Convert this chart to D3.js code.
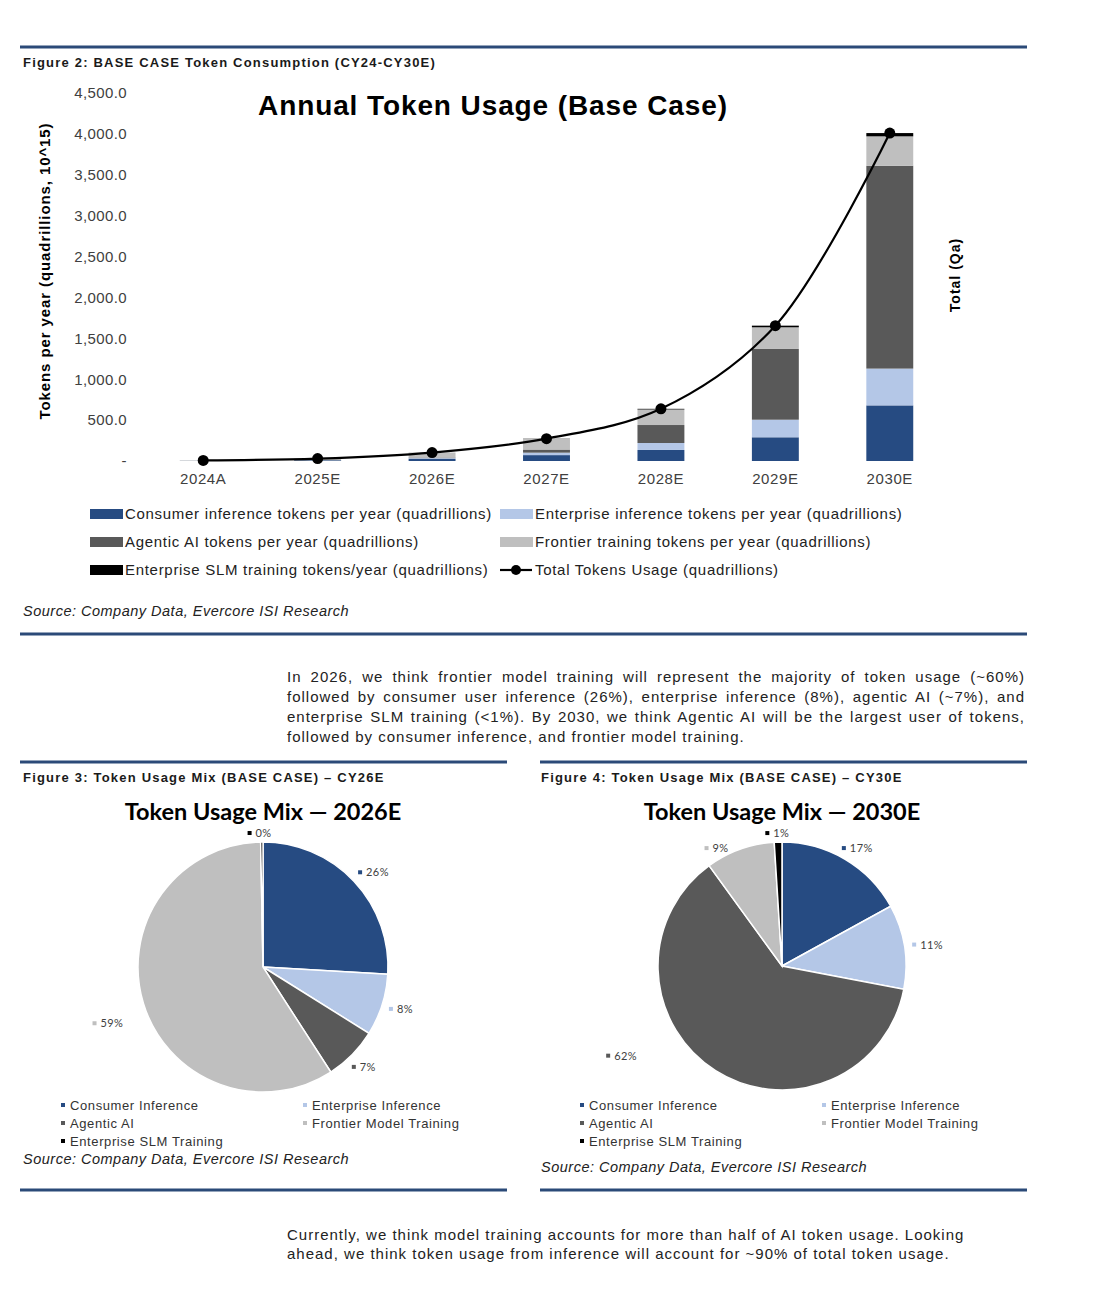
<!DOCTYPE html>
<html><head><meta charset="utf-8">
<script src="https://cdn.jsdelivr.net/npm/d3@7"></script>
<style>body{margin:0;background:#fff} svg{display:block}</style>
</head><body>
<svg id="c" width="1100" height="1316"></svg>
<script>
// ---------- DATA ----------
const years = ["2024A","2025E","2026E","2027E","2028E","2029E","2030E"];
const consumer   = [1.2, 8, 27, 72, 135, 290, 680];
const enterprise = [0.4, 2.5, 8, 30, 85, 215, 450];
const agentic    = [0.2, 1.5, 7, 38, 220, 865, 2480];
const frontier   = [5, 17, 61, 130, 190, 265, 360];
const slm        = [0.05, 0.1, 0.3, 3, 8, 20, 40];
const seriesNames = [
  "Consumer inference tokens per year (quadrillions)",
  "Enterprise inference tokens per year (quadrillions)",
  "Agentic AI tokens per year (quadrillions)",
  "Frontier training tokens per year (quadrillions)",
  "Enterprise SLM training tokens/year (quadrillions)"
];
const totalName = "Total Tokens Usage (quadrillions)";
const yTicks = [0, 500, 1000, 1500, 2000, 2500, 3000, 3500, 4000, 4500];

const pieCategories = ["Consumer Inference","Enterprise Inference","Agentic AI","Frontier Model Training","Enterprise SLM Training"];
const mix2026 = [26, 8, 7, 59, 0.3];
const mix2030 = [17, 11, 62, 9, 1];

const para1 = [
  "In 2026, we think frontier model training will represent the majority of token usage (~60%)",
  "followed by consumer user inference (26%), enterprise inference (8%), agentic AI (~7%), and",
  "enterprise SLM training (<1%). By 2030, we think Agentic AI will be the largest user of tokens,",
  "followed by consumer inference, and frontier model training."
];
const para2 = [
  "Currently, we think model training accounts for more than half of AI token usage.  Looking",
  "ahead, we think token usage from inference will account for ~90% of total token usage."
];

// ---------- STYLE ----------
const colors = ["#264b82", "#b4c7e7", "#595959", "#bfbfbf", "#000000"];
const AR = "'Liberation Sans', Arial, sans-serif";
const CAL = "Lato, 'Open Sans', sans-serif";
const RULE = "#2b4a78";
const TXT = "#1a1a1a";
// label nudges (px) for pie data labels that Excel moved with "best fit"
const labelNudge2026 = [[0,0],[-3,0],[-4,3],[-13,16],[0,4]];
const labelNudge2030 = [[-2,0],[-3,0],[-82,-26],[-13,11],[2,4]];

const svg = d3.select("#c");
svg.append("rect").attr("width", 1100).attr("height", 1316).attr("fill", "#fff");

function rule(x1, x2, y) {
  svg.append("line").attr("x1", x1).attr("x2", x2).attr("y1", y).attr("y2", y)
    .attr("stroke", RULE).attr("stroke-width", 3);
}
[[20,1027,47],[20,1027,634],[20,507,762],[540,1027,762],[20,507,1190],[540,1027,1190]].forEach(r => rule(...r));

function text(x, y, s, size, opts = {}) {
  return svg.append("text").attr("x", x).attr("y", y).text(s)
    .attr("font-family", opts.family || AR).attr("font-size", size)
    .attr("font-weight", opts.weight || "normal").attr("font-style", opts.style || "normal")
    .attr("letter-spacing", opts.ls || 0)
    .attr("fill", opts.fill || TXT).attr("text-anchor", opts.anchor || "start");
}

// headers & sources
const HDR = {weight: "bold", ls: 1.2};
text(23, 67, "Figure 2: BASE CASE Token Consumption (CY24-CY30E)", 13, HDR);
const SRC = {style: "italic", fill: "#222", ls: 0.5};
text(23, 616, "Source: Company Data, Evercore ISI Research", 14.5, SRC);
text(23, 782, "Figure 3: Token Usage Mix (BASE CASE) \u2013 CY26E", 13, HDR);
text(541, 782, "Figure 4: Token Usage Mix (BASE CASE) \u2013 CY30E", 13, HDR);
text(23, 1164, "Source: Company Data, Evercore ISI Research", 14.5, SRC);
text(541, 1172, "Source: Company Data, Evercore ISI Research", 14.5, SRC);

// ---------- BAR CHART ----------
const x = d3.scaleBand().domain(years).range([146, 947]).paddingInner(0.59).paddingOuter(0.295);
const y = d3.scaleLinear().domain([0, 4500]).range([461, 93]);

text(493, 115, "Annual Token Usage (Base Case)", 28, {weight: "bold", anchor: "middle", fill: "#000", ls: 0.9});

const yAxis = svg.append("g").attr("transform", "translate(127,0)")
  .call(d3.axisLeft(y).tickValues(yTicks).tickSize(0).tickPadding(0)
    .tickFormat(d => d === 0 ? "-" : d3.format(",.1f")(d)));
yAxis.select(".domain").remove();
yAxis.selectAll("text").attr("font-family", AR).attr("font-size", 15).attr("letter-spacing", 0.4).attr("fill", "#404040");

const xAxis = svg.append("g").attr("transform", "translate(0,461)")
  .call(d3.axisBottom(x).tickSize(0).tickPadding(12));
xAxis.select(".domain").remove();
xAxis.selectAll("text").attr("font-family", AR).attr("font-size", 15).attr("letter-spacing", 0.6).attr("fill", "#404040");

const table = years.map((yr, i) => ({year: yr, s0: consumer[i], s1: enterprise[i], s2: agentic[i], s3: frontier[i], s4: slm[i]}));
const keys = ["s0","s1","s2","s3","s4"];
const stacked = d3.stack().keys(keys)(table);
svg.append("g").selectAll("g").data(stacked).join("g")
  .attr("fill", (d, i) => colors[i])
  .selectAll("rect").data(d => d).join("rect")
  .attr("x", d => x(d.data.year)).attr("width", x.bandwidth())
  .attr("y", d => y(d[1])).attr("height", d => Math.max(0, y(d[0]) - y(d[1])));

const totals = table.map(d => ({year: d.year, v: keys.reduce((a, k) => a + d[k], 0)}));
const line = d3.line().x(d => x(d.year) + x.bandwidth() / 2).y(d => y(d.v)).curve(d3.curveCatmullRom.alpha(0.5));
svg.append("path").datum(totals).attr("d", line).attr("fill", "none").attr("stroke", "#000").attr("stroke-width", 2.2);
svg.append("g").selectAll("circle").data(totals).join("circle")
  .attr("cx", d => x(d.year) + x.bandwidth() / 2).attr("cy", d => y(d.v)).attr("r", 5.5).attr("fill", "#000");

// axis titles
text(0, 0, "Tokens per year (quadrillions, 10^15)", 15, {weight: "bold", anchor: "middle", fill: "#000", ls: 0.9})
  .attr("transform", "translate(50,271) rotate(-90)");
text(0, 0, "Total (Qa)", 14, {weight: "bold", anchor: "middle", fill: "#000", ls: 1})
  .attr("transform", "translate(960,275) rotate(-90)");

// legend
const legItems = [
  {name: seriesNames[0], c: colors[0], col: 0, row: 0},
  {name: seriesNames[1], c: colors[1], col: 1, row: 0},
  {name: seriesNames[2], c: colors[2], col: 0, row: 1},
  {name: seriesNames[3], c: colors[3], col: 1, row: 1},
  {name: seriesNames[4], c: colors[4], col: 0, row: 2},
  {name: totalName, line: true, col: 1, row: 2}
];
const legX = [90, 500], legY = [514, 542, 570];
legItems.forEach(it => {
  const lx = legX[it.col], ly = legY[it.row];
  if (it.line) {
    svg.append("line").attr("x1", lx).attr("x2", lx + 32).attr("y1", ly).attr("y2", ly).attr("stroke", "#000").attr("stroke-width", 2.2);
    svg.append("circle").attr("cx", lx + 16).attr("cy", ly).attr("r", 5).attr("fill", "#000");
  } else {
    svg.append("rect").attr("x", lx).attr("y", ly - 5).attr("width", 33).attr("height", 10).attr("fill", it.c);
  }
  text(lx + 35, ly + 5, it.name, 15, {fill: "#222", ls: 0.7});
});

// ---------- PARAGRAPHS ----------
function paragraph(lines, x0, y0, lh, width, justify) {
  lines.forEach((s, i) => {
    const t = text(x0, y0 + i * lh, s, 15, {fill: "#222", ls: 1.0});
    if (justify && i < lines.length - 1) {
      const w = t.node().getComputedTextLength();
      const spaces = (s.match(/ /g) || []).length;
      if (spaces && width > w) t.attr("word-spacing", (width - w) / spaces);
    }
  });
}
paragraph(para1, 287, 682, 20, 738, true);
paragraph(para2, 287, 1240, 19, 686, false);

// ---------- PIES ----------
function drawPie(cx, cy, r, values, title, nudge) {
  text(cx, 820, title, 23.5, {family: CAL, weight: "bold", anchor: "middle", fill: "#000"});
  const arcs = d3.pie().sort(null).value(d => d)(values);
  const arc = d3.arc().innerRadius(0).outerRadius(r);
  const g = svg.append("g").attr("transform", `translate(${cx},${cy})`);
  g.selectAll("path").data(arcs).join("path").attr("d", arc)
    .attr("fill", (d, i) => colors[i]).attr("stroke", "#fff").attr("stroke-width", 1.5);
  const total = d3.sum(values);
  arcs.forEach((a, i) => {
    const m = (a.startAngle + a.endAngle) / 2;
    const sa = Math.sin(m), ca = -Math.cos(m);
    const lbl = d3.format(".0%")(values[i] / total);
    const w = 34, h = 10;
    const px = (r + 8) * sa + sa * w / 2 + nudge[i][0];
    const py = (r + 8) * ca + ca * h / 2 + nudge[i][1];
    const lg = g.append("g").attr("transform", `translate(${px},${py})`);
    lg.append("rect").attr("x", -w / 2 + 3).attr("y", -2).attr("width", 4).attr("height", 4).attr("fill", colors[i]);
    lg.append("text").attr("x", -w / 2 + 11).attr("y", 4).text(lbl)
      .attr("font-family", CAL).attr("font-size", 11).attr("letter-spacing", 0.4).attr("fill", "#404040");
  });
  // legend
  const lc = [cx - 200, cx + 42], lr = [1105, 1123, 1141];
  pieCategories.forEach((name, i) => {
    const lx = lc[i % 2], ly = lr[Math.floor(i / 2)];
    svg.append("rect").attr("x", lx - 2).attr("y", ly - 2).attr("width", 4).attr("height", 4).attr("fill", colors[i]);
    text(lx + 7, ly + 5, name, 13, {fill: "#333", ls: 0.6});
  });
}
drawPie(263, 967, 125, mix2026, "Token Usage Mix \u2014 2026E", labelNudge2026);
drawPie(782, 966, 124, mix2030, "Token Usage Mix \u2014 2030E", labelNudge2030);
</script>
</body></html>
